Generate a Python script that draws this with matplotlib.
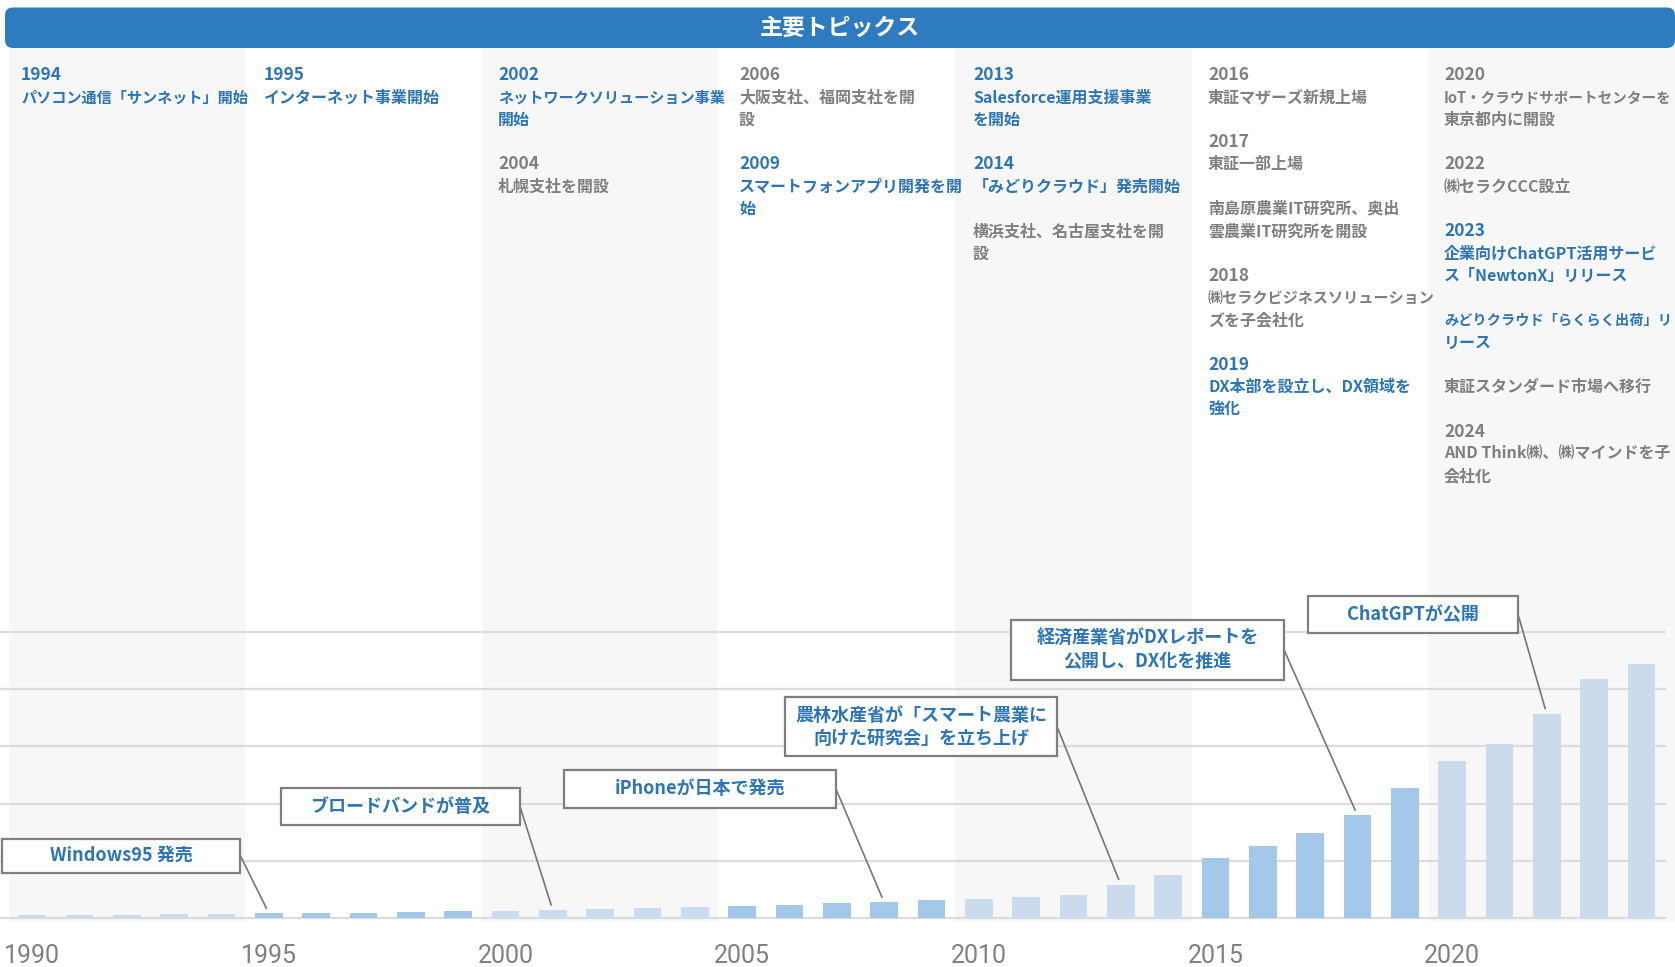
import matplotlib
matplotlib.use('Agg')
import matplotlib.pyplot as plt
from matplotlib import transforms
from matplotlib.patches import Rectangle, FancyBboxPatch

W, H = 1675, 967
JP = ['Noto Sans CJK JP', 'DejaVu Sans']
plt.rcParams['font.family'] = JP

# ---------------- data ----------------
years = list(range(1990, 2025))
values = [0.047, 0.053, 0.058, 0.064, 0.076,
          0.082, 0.088, 0.094, 0.105, 0.117,
          0.129, 0.135, 0.152, 0.170, 0.187,
          0.210, 0.234, 0.256, 0.274, 0.309,
          0.338, 0.373, 0.408, 0.585, 0.755,
          1.055, 1.255, 1.490, 1.795, 2.265,
          2.745, 3.045, 3.565, 4.170, 4.446]
tick_years = [1990, 1995, 2000, 2005, 2010, 2015, 2020]
period_starts = [1990, 1995, 2000, 2005, 2010, 2015, 2020]

title = '主要トピックス'

# topics per column: (line slot, text, colour key, is_year)
topics = [
    [(0, '1994', 'b', True), (1, 'パソコン通信「サンネット」開始', 'b', False)],
    [(0, '1995', 'b', True), (1, 'インターネット事業開始', 'b', False)],
    [(0, '2002', 'b', True), (1, 'ネットワークソリューション事業', 'b', False), (2, '開始', 'b', False),
     (4, '2004', 'g', True), (5, '札幌支社を開設', 'g', False)],
    [(0, '2006', 'g', True), (1, '大阪支社、福岡支社を開', 'g', False), (2, '設', 'g', False),
     (4, '2009', 'b', True), (5, 'スマートフォンアプリ開発を開', 'b', False), (6, '始', 'b', False)],
    [(0, '2013', 'b', True), (1, 'Salesforce運用支援事業', 'b', False), (2, 'を開始', 'b', False),
     (4, '2014', 'b', True), (5, '「みどりクラウド」発売開始', 'b', False),
     (7, '横浜支社、名古屋支社を開', 'g', False), (8, '設', 'g', False)],
    [(0, '2016', 'g', True), (1, '東証マザーズ新規上場', 'g', False),
     (3, '2017', 'g', True), (4, '東証一部上場', 'g', False),
     (6, '南島原農業IT研究所、奥出', 'g', False), (7, '雲農業IT研究所を開設', 'g', False),
     (9, '2018', 'g', True), (10, '㈱セラクビジネスソリューション', 'g', False), (11, 'ズを子会社化', 'g', False),
     (13, '2019', 'b', True), (14, 'DX本部を設立し、DX領域を', 'b', False), (15, '強化', 'b', False)],
    [(0, '2020', 'g', True), (1, 'IoT・クラウドサポートセンターを', 'g', False), (2, '東京都内に開設', 'g', False),
     (4, '2022', 'g', True), (5, '㈱セラクCCC設立', 'g', False),
     (7, '2023', 'b', True), (8, '企業向けChatGPT活用サービ', 'b', False), (9, 'ス「NewtonX」リリース', 'b', False),
     (11, 'みどりクラウド「らくらく出荷」リ', 'b', False), (12, 'リース', 'b', False),
     (14, '東証スタンダード市場へ移行', 'g', False),
     (16, '2024', 'g', True), (17, 'AND Think㈱、㈱マインドを子', 'g', False), (18, '会社化', 'g', False)],
]

callout_texts = ['Windows95 発売', 'ブロードバンドが普及', 'iPhoneが日本で発売',
                 '農林水産省が「スマート農業に\n向けた研究会」を立ち上げ',
                 '経済産業省がDXレポートを\n公開し、DX化を推進', 'ChatGPTが公開']
callout_years = [1995, 2001, 2008, 2013, 2018, 2022]

# ---------------- layout ----------------
BLUE = '#2E75B6'
GRAY = '#7F7F7F'
LIGHT_BAR = '#C9DBEC'
MID_BAR = '#A4C8E9'
BAND = '#F7F7F7'
HEADER = '#2E7BBF'
GRID = '#DCDCDC'

col_x = [21, 264, 498, 739, 973, 1208, 1444]
col_max_w = 228
line_y0, line_step = 75, 22.3
callout_boxes = [(2, 838.5, 240.3, 872.7), (281, 788, 520, 825), (564, 770, 836, 808),
                 (785, 697, 1057, 756), (1011, 619.5, 1284, 680), (1308, 596, 1518, 632.5)]

fig = plt.figure(figsize=(W / 100, H / 100), dpi=100)
fig.patch.set_facecolor('white')

x1990, px_per_year = 32.2, 47.33
ax_left, ax_right, ax_top, ax_bot = 0, 1665, 632, 918
ax = fig.add_axes([ax_left / W, (H - ax_bot) / H, (ax_right - ax_left) / W, (ax_bot - ax_top) / H], zorder=1)
ax.set_xlim(1990 - (x1990 - ax_left) / px_per_year, 1990 + (ax_right - x1990) / px_per_year)
ax.set_ylim(0, 5)
ax.patch.set_alpha(0)
for s in ax.spines.values():
    s.set_visible(False)

fg = fig.add_axes([0, 0, 1, 1], zorder=3)
fg.set_xlim(0, W)
fg.set_ylim(H, 0)
fg.axis('off')
fg.patch.set_alpha(0)

# column bands
blend = transforms.blended_transform_factory(ax.transData, fg.transData)
for i, st in enumerate(period_starts):
    if i % 2 == 0:
        x0 = st - 0.5
        x1 = st + 4.5 if i < len(period_starts) - 1 else st + 6
        ax.add_patch(Rectangle((x0, 48), x1 - x0, 922 - 48, transform=blend,
                               facecolor=BAND, edgecolor='none', zorder=0, clip_on=False))

# gridlines
for g in range(0, 6):
    ax.axhline(g, color=GRID, lw=1.6, zorder=1, clip_on=False)

# bars
colors = [LIGHT_BAR if ((y - 1990) // 5) % 2 == 0 else MID_BAR for y in years]
ax.bar(years, values, width=0.585, color=colors, zorder=2)

ax.set_yticks([])
ax.set_xticks(tick_years)
ax.set_xticklabels([str(t) for t in tick_years], fontfamily=['Roboto', 'DejaVu Sans'],
                   fontweight='normal', fontsize=18, color='#808080')
ax.tick_params(axis='x', length=0, pad=19)

# header
fg.add_patch(FancyBboxPatch((5, 7.5), 1670, 40.5, boxstyle='round,pad=0,rounding_size=8',
                            facecolor=HEADER, edgecolor='none', zorder=2))
fg.text(840, 28, title, color='white', fontsize=16.5, fontweight='bold', ha='center', va='center', zorder=3)

# topics
renderer = fig.canvas.get_renderer()
for cx, col in zip(col_x, topics):
    for slot, txt, ck, is_year in col:
        fs = 12.5 if is_year else 11.5
        t = fg.text(cx, line_y0 + slot * line_step, txt, color=BLUE if ck == 'b' else GRAY,
                    fontsize=fs, fontweight='bold', ha='left', va='center', zorder=3)
        w = t.get_window_extent(renderer).width
        if w > col_max_w:
            t.set_fontsize(fs * col_max_w / w)

# callouts
for txt, yr, (bx0, by0, bx1, by1) in zip(callout_texts, callout_years, callout_boxes):
    val = values[years.index(yr)]
    fg.annotate('', xy=(yr, val), xycoords=ax.transData, xytext=(bx1, (by0 + by1) / 2), textcoords='data',
                arrowprops=dict(arrowstyle='-', color='#767676', lw=1.2, shrinkA=0, shrinkB=4),
                annotation_clip=False, zorder=3)
    fg.add_patch(Rectangle((bx0, by0), bx1 - bx0, by1 - by0, facecolor='white', edgecolor='#7F7F7F',
                           lw=1.6, zorder=4))
    fg.text((bx0 + bx1) / 2, (by0 + by1) / 2, txt, ha='center', va='center', color=BLUE,
            fontsize=13, fontweight='bold', linespacing=1.25, zorder=5)

fig.savefig('out.png', dpi=100)
